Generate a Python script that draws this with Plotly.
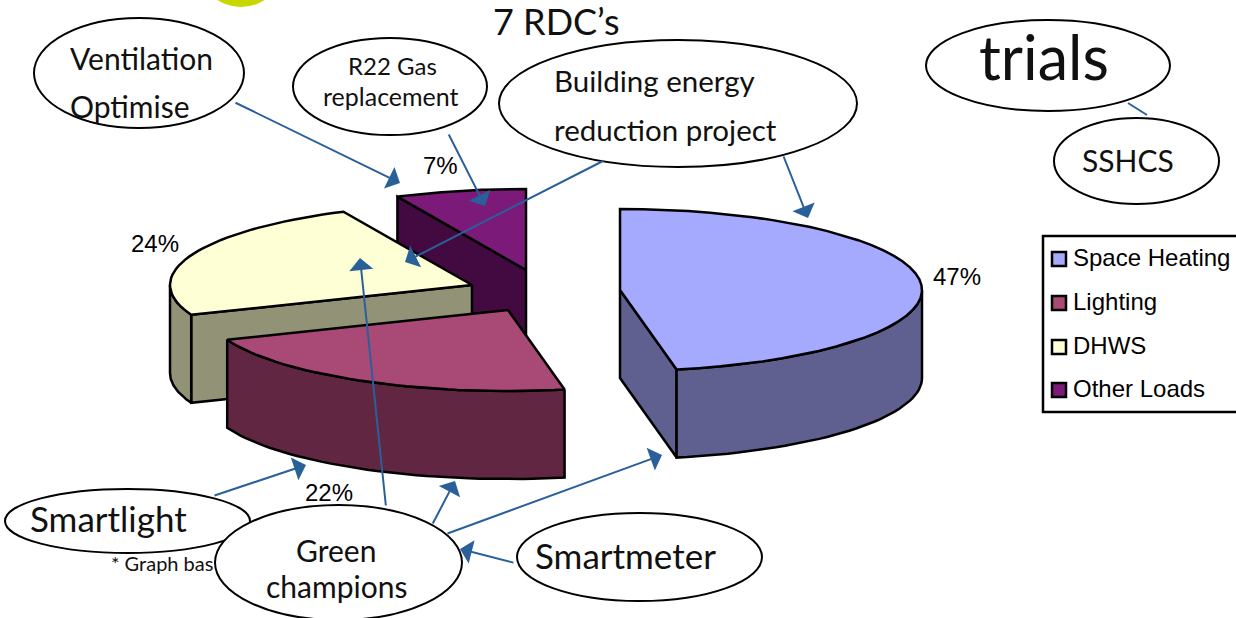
import numpy as np
import plotly.graph_objects as go

# Pie data
categories = ['Space Heating', 'Lighting', 'DHWS', 'Other Loads']
shares = [47, 22, 24, 7]

# Colours for the top of each slice and for its side walls
top_colors = ['#A6AAFF', '#A94A76', '#FFFFD5', '#7B1A78']
wall_colors = ['#606090', '#602642', '#929276', '#430A42']

# Where each exploded slice sits on the page (pixels), and the pie shape
centers = [(620, 290), (508, 310), (472, 285), (526, 270)]
rx, ry, depth = 302, 81, 88
label_pos = [(957, 276), (329, 492), (155, 243), (440, 165)]

# Legend box position
legend_box = (1043, 236, 1250, 412)
legend_y = [259, 303, 347, 390]

# Callout bubbles: left, top, right, bottom
bubbles = [
    (34, 18, 244, 128),
    (293, 38, 487, 135),
    (499, 40, 857, 167),
    (926, 20, 1170, 111),
    (1054, 118, 1219, 204),
    (517, 513, 762, 601),
    (5, 489, 250, 553),
    (215, 505, 462, 620),
]

# Text: string, x, y, size, anchor
texts = [
    ("7 RDC’s", 556, 21, 36, 'center'),
    ("Ventilation", 68, 58, 30, 'left'),
    ("Optimise", 68, 106, 30, 'left'),
    ("R22 Gas", 392, 65, 24, 'center'),
    ("replacement", 391, 96, 25, 'center'),
    ("Building energy", 552, 80, 29.5, 'left'),
    ("reduction project", 552, 129, 29.5, 'left'),
    ("trials", 977, 56, 61, 'left'),
    ("SSHCS", 1128, 160, 30, 'center'),
    ("Smartlight", 28, 518, 35, 'left'),
    ("Green", 336, 550, 30, 'center'),
    ("champions", 336, 586, 30, 'center'),
    ("Smartmeter", 533, 555, 35, 'left'),
    ("* Graph bas", 109, 563, 20, 'left'),
]

# Blue connectors: tail x, tail y, head x, head y
arrows = [
    (234, 102, 400, 183),
    (448, 133, 485, 206),
    (605, 160, 405, 262),
    (783, 155, 808, 218),
    (386, 507, 360, 258),
    (213, 496, 306, 465),
    (432, 525, 455, 481),
    (446, 534, 662, 455),
    (515, 563, 460, 549),
]
link_color = '#2A6099'


def arc(cx, cy, a0, a1, n=40):
    # angles in degrees, clockwise from 12 o'clock
    t = np.radians(np.linspace(a0, a1, n))
    return cx + rx * np.sin(t), cy - ry * np.cos(t)


def poly(xs, ys, color, name=None):
    return go.Scatter(x=list(xs) + [xs[0]], y=list(ys) + [ys[0]], mode='lines', fill='toself',
                      fillcolor=color, line=dict(color='black', width=2.5), hoverinfo='skip',
                      showlegend=False, name=name)


# Slice angles from the shares
edges = np.cumsum([0] + shares) / sum(shares) * 360
fig = go.Figure()

# Draw order: blue, purple, yellow, lighting (back to front)
for i in [0, 3, 2, 1]:
    cx, cy = centers[i]
    a0, a1 = edges[i], edges[i + 1]

    # cut face towards the viewer
    cut = a1 if i == 0 else a0
    if i in (0, 2, 3):
        ex, ey = arc(cx, cy, cut, cut, 1)
        fig.add_trace(poly([cx, ex[0], ex[0], cx], [cy, ey[0], ey[0] + depth, cy + depth], wall_colors[i]))

    # outer wall, only the front half of the rim shows
    w0, w1 = max(a0, 90), min(a1, 270)
    if w0 < w1:
        wx, wy = arc(cx, cy, w0, w1)
        fig.add_trace(poly(np.r_[wx, wx[::-1]], np.r_[wy, wy[::-1] + depth], wall_colors[i]))

    # top
    tx, ty = arc(cx, cy, a0, a1)
    fig.add_trace(poly(np.r_[cx, tx], np.r_[cy, ty], top_colors[i], categories[i]))

# Percent labels
for share, (lx, ly) in zip(shares, label_pos):
    fig.add_annotation(x=lx, y=ly, text=f'{share}%', showarrow=False,
                       font=dict(family='Liberation Sans', size=24, color='black'))

# Bubbles
shapes = [dict(type='circle', x0=241 - 43, x1=241 + 43, y0=-36 - 43, y1=-36 + 43,
               fillcolor='#C6D800', line=dict(width=0), layer='above')]
for x0, y0, x1, y1 in bubbles:
    shapes.append(dict(type='circle', x0=x0, x1=x1, y0=y0, y1=y1, fillcolor='white',
                       line=dict(color='black', width=2), layer='above'))
shapes.append(dict(type='line', x0=1128, y0=103, x1=1147, y1=115, line=dict(color=link_color, width=2)))

# The legend is placed by hand, plotly's own keeps too wide a swatch column for this box
shapes.append(dict(type='rect', x0=legend_box[0], y0=legend_box[1], x1=legend_box[2], y1=legend_box[3],
                   fillcolor='white', line=dict(color='black', width=2.5), layer='below'))
fig.add_trace(go.Scatter(x=[1059] * 4, y=legend_y, mode='markers', showlegend=False, hoverinfo='skip',
                         marker=dict(symbol='square', size=14, color=top_colors,
                                     line=dict(color='black', width=2.5))))
for name, ly in zip(categories, legend_y):
    fig.add_annotation(x=1071, y=ly - 2, text=name, showarrow=False, xanchor='left',
                       font=dict(family='Liberation Sans', size=24, color='black'))

for s, x, y, size, anchor in texts:
    fig.add_annotation(x=x, y=y, text=s, showarrow=False, xanchor=anchor, yanchor='middle',
                       font=dict(family='Lato', size=size, color='#111111'))

for x0, y0, x1, y1 in arrows:
    fig.add_annotation(x=x1, y=y1, ax=x0, ay=y0, axref='x', ayref='y', text='', showarrow=True,
                       arrowhead=1, arrowsize=2, arrowwidth=2, arrowcolor=link_color)

fig.update_layout(
    width=1236, height=618, margin=dict(l=0, r=0, t=0, b=0),
    paper_bgcolor='white', plot_bgcolor='white', shapes=shapes, showlegend=False,
    xaxis=dict(range=[0, 1236], visible=False, fixedrange=True),
    yaxis=dict(range=[618, 0], visible=False, fixedrange=True),
)

fig.write_html("out.html", config={'displayModeBar': False},
               post_script="document.body.style.margin = '0';")
